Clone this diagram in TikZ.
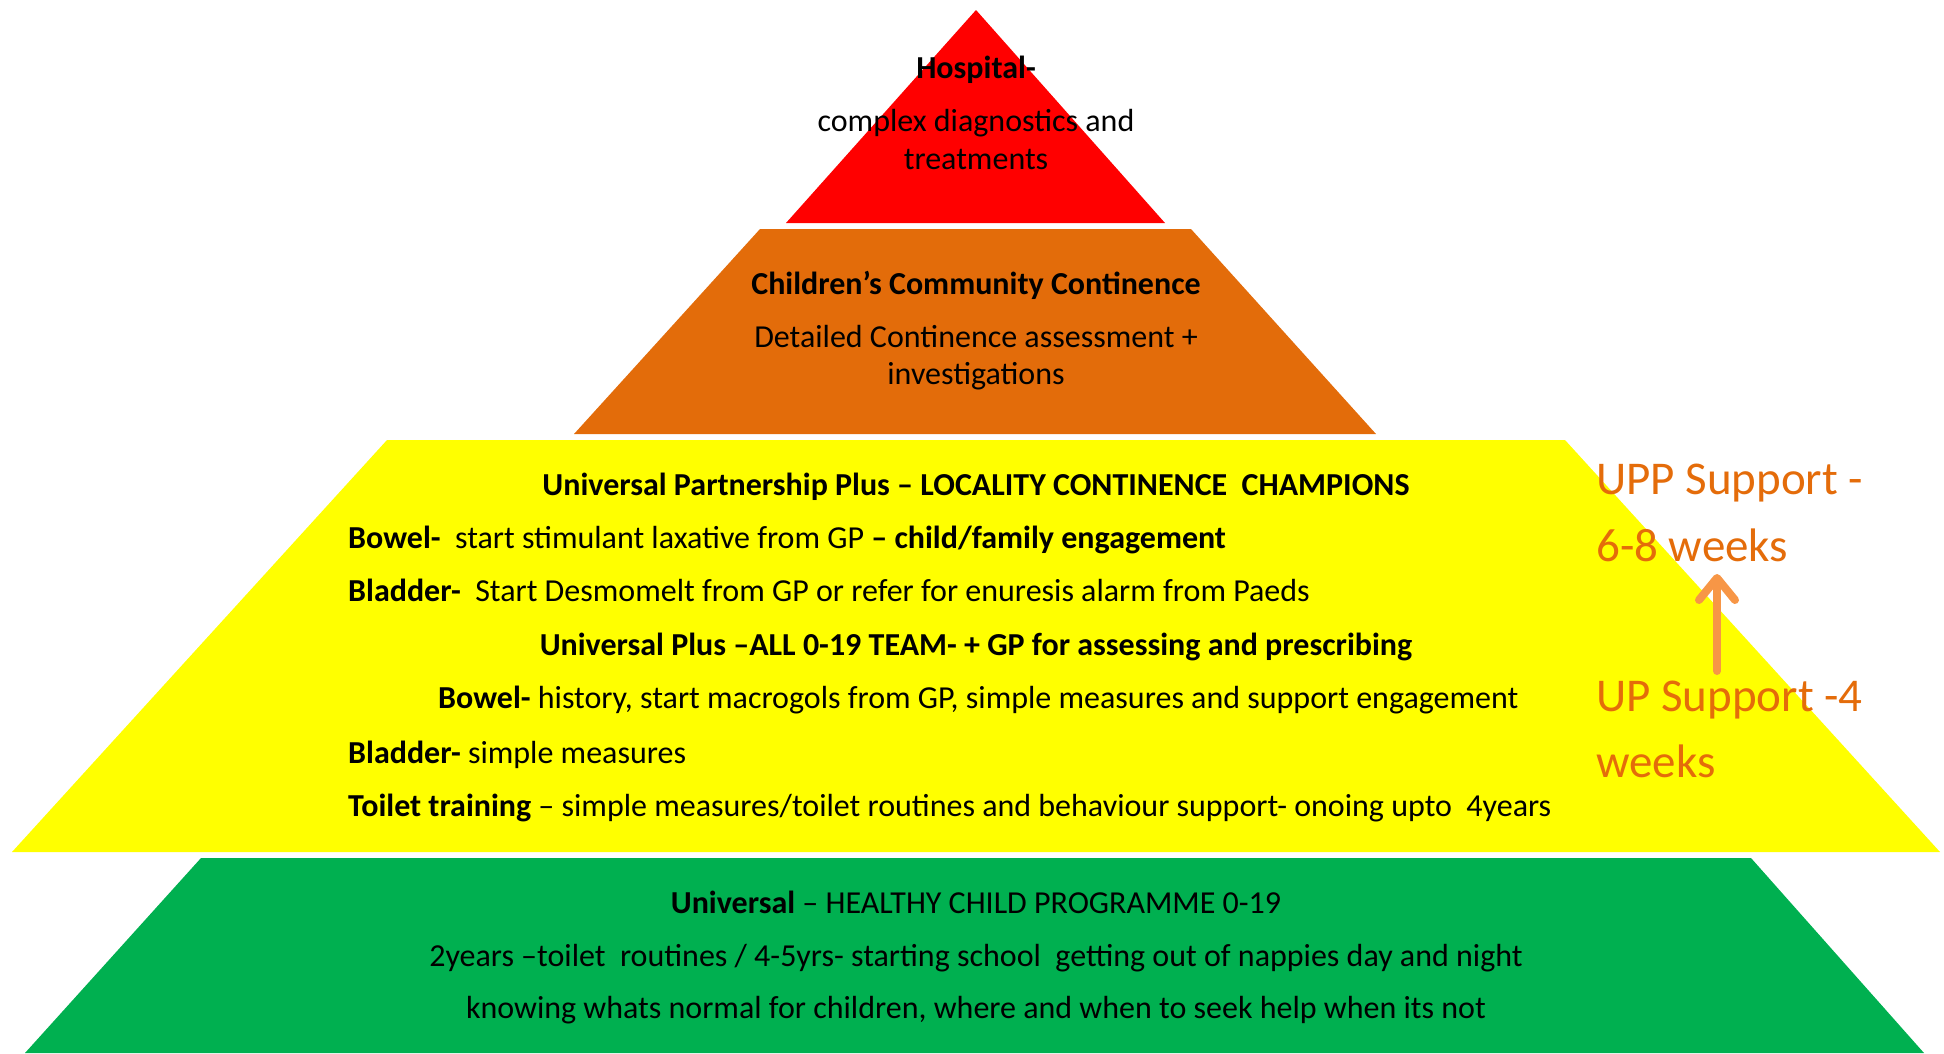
\documentclass[tikz,border=0pt]{standalone}
\usepackage{fontspec}
\setmainfont{Carlito}
\usetikzlibrary{arrows.meta}
\definecolor{pyrred}{RGB}{255,0,0}
\definecolor{pyrorange}{RGB}{227,108,10}
\definecolor{pyryellow}{RGB}{255,255,0}
\definecolor{pyrgreen}{RGB}{0,176,80}
\definecolor{labelorange}{RGB}{228,108,10}
\definecolor{arroworange}{RGB}{247,150,70}
\begin{document}
\begin{tikzpicture}[x=1pt,y=-1pt,
  txt/.style={font=\fontsize{32}{38}\selectfont, inner sep=0pt, anchor=base},
  ltxt/.style={txt, anchor=base west},
  side/.style={font=\fontsize{47}{56}\selectfont, text=labelorange, inner sep=0pt, anchor=base west},
  upArrow/.style={draw=arroworange, line width=8pt, line cap=round,
    -{Straight Barb[length=22pt,width=36pt,line cap=round,line join=round]}}
  ]
\useasboundingbox (0,0) rectangle (1944,1053);
% tiers
\fill[pyrred] (786,223) -- (976,10) -- (1165,223) -- cycle;
\fill[pyrorange] (574,434) -- (760,229) -- (1191,229) -- (1376,434) -- cycle;
\fill[pyryellow] (12,852) -- (387,440) -- (1565,440) -- (1940,852) -- cycle;
\fill[pyrgreen] (25,1053) -- (201,858) -- (1751,858) -- (1924,1053) -- cycle;
% red
\node[txt] (h1) at (976,78) {\textbf{Hospital-}};
\node[txt] (h2) at (976,131) {complex diagnostics and};
\node[txt] (h3) at (976,169) {treatments};
% orange
\node[txt] (c1) at (976,294) {\textbf{Children’s Community Continence}};
\node[txt] (c2) at (976,347) {Detailed Continence assessment +};
\node[txt] (c3) at (976,384) {investigations};
% yellow
\node[txt] (y1) at (976,495) {\textbf{Universal Partnership Plus – LOCALITY CONTINENCE\ \ CHAMPIONS}};
\node[ltxt] (y2) at (348,548) {\textbf{Bowel-}\ \ start stimulant laxative from GP \textbf{– child/family engagement}};
\node[ltxt] (y3) at (348,601) {\textbf{Bladder-}\ \ Start Desmomelt from GP or refer for enuresis alarm from Paeds};
\node[txt] (y4) at (976,655) {\textbf{Universal Plus –ALL 0-19 TEAM- + GP for assessing and prescribing}};
\node[ltxt] (y5) at (438,708) {\textbf{Bowel-} history, start macrogols from GP, simple measures and support engagement};
\node[ltxt] (y6) at (348,763) {\textbf{Bladder-} simple measures};
\node[ltxt] (y7) at (348,816) {\textbf{Toilet training} – simple measures/toilet routines and behaviour support- onoing upto\ \ 4years};
% green
\node[txt] (g1) at (976,913) {\textbf{Universal} – HEALTHY CHILD PROGRAMME 0-19};
\node[txt] (g2) at (976,966) {2years –toilet\ \ routines / 4-5yrs- starting school\ \ getting out of nappies day and night};
\node[txt] (g3) at (976,1018) {knowing whats normal for children, where and when to seek help when its not};
% side labels
\node[side] (s1) at (1596,494) {UPP Support -};
\node[side] (s2) at (1596,561) {6-8 weeks};
\node[side] (s3) at (1596,711) {UP Support -4};
\node[side] (s4) at (1596,777) {weeks};
\coordinate (arrS) at (1717,671);
\coordinate (arrE) at (1717,574);
\draw[upArrow] (arrS) -- (arrE);
\end{tikzpicture}
\end{document}
